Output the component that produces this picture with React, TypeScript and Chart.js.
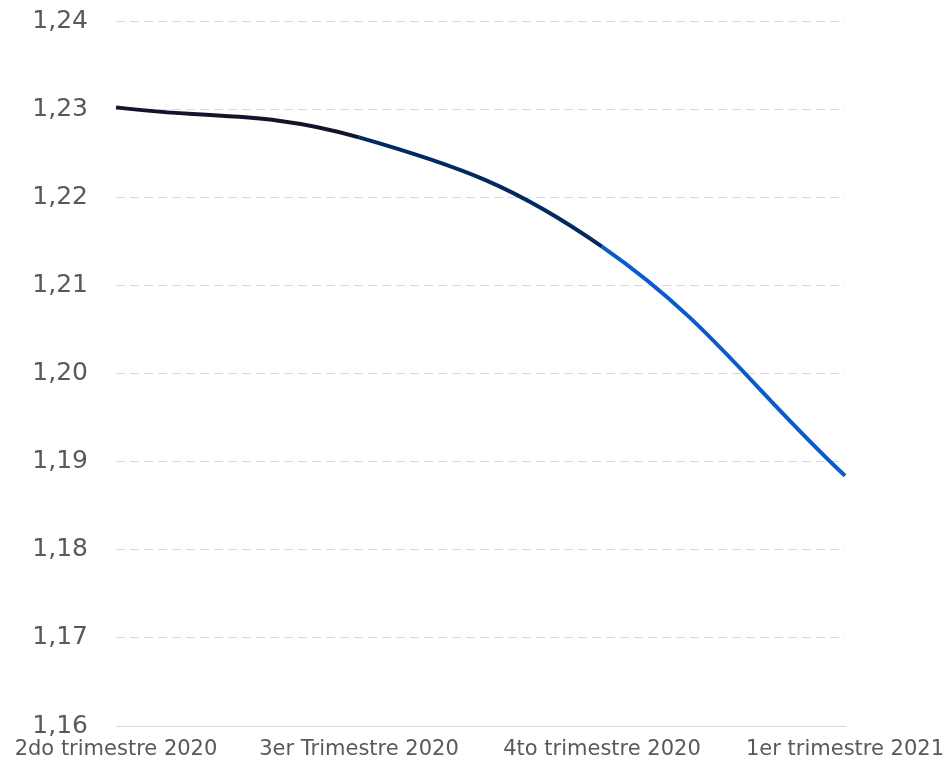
import React, { useEffect, useRef } from "react";
import { Chart, registerables } from "chart.js";

Chart.register(...registerables);

const categories = ["2do trimestre 2020", "3er Trimestre 2020", "4to trimestre 2020", "1er trimestre 2021"];
const values = [1.2302, 1.2268, 1.2144, 1.1884];
const segmentColors = ["#13132e", "#002a60", "#0a5bcc"];
const yMin = 1.16;
const yMax = 1.24;
const yStep = 0.01;

export default function App() {
  const ref = useRef<HTMLCanvasElement | null>(null);

  useEffect(() => {
    document.body.style.margin = "0";
    const canvas = ref.current;
    if (!canvas) return;
    const chart = new Chart(canvas, {
      type: "line",
      data: {
        labels: categories,
        datasets: [
          {
            data: values,
            borderWidth: 4,
            tension: 0.4,
            pointRadius: 0,
            pointHoverRadius: 0,
            fill: false,
            borderColor: segmentColors[0],
            segment: {
              borderColor: (ctx: any) => segmentColors[ctx.p0DataIndex] || segmentColors[0],
            },
          },
        ],
      },
      options: {
        animation: false,
        responsive: false,
        maintainAspectRatio: false,
        layout: { padding: { left: 0, right: 101, top: 21, bottom: 0 } },
        plugins: { legend: { display: false }, tooltip: { enabled: false } },
        scales: {
          x: {
            offset: false,
            grid: { display: false, drawTicks: false },
            border: { display: true, color: "#d9d9d9", width: 1 },
            ticks: {
              color: "#595959",
              font: { family: "DejaVu Sans", size: 21 },
              padding: 11,
              maxRotation: 0,
              autoSkip: false,
            },
            afterFit: (scale: any) => {
              scale.paddingLeft = 0;
              scale.paddingRight = 0;
              scale.height = 43;
            },
          },
          y: {
            min: yMin,
            max: yMax,
            grid: {
              drawTicks: false,
              color: (ctx: any) => (ctx.tick && Math.abs(ctx.tick.value - yMin) < 1e-6 ? "rgba(0,0,0,0)" : "#d9d9d9"),
              lineWidth: 1,
            },
            border: { display: false, dash: [9, 5] },
            ticks: {
              stepSize: yStep,
              color: "#595959",
              font: { family: "DejaVu Sans", size: 25 },
              padding: 28,
              callback: (v: any) => Number(v).toFixed(2).replace(".", ","),
            },
            afterFit: (scale: any) => {
              scale.width = 116;
              scale.paddingTop = 0;
              scale.paddingBottom = 0;
            },
          },
        },
      },
    });
    return () => chart.destroy();
  }, []);

  return (
    <div style={{ position: "absolute", left: 0, top: 0, width: 946, height: 769 }}>
      <canvas ref={ref} width={946} height={769} style={{ width: 946, height: 769 }} />
    </div>
  );
}
